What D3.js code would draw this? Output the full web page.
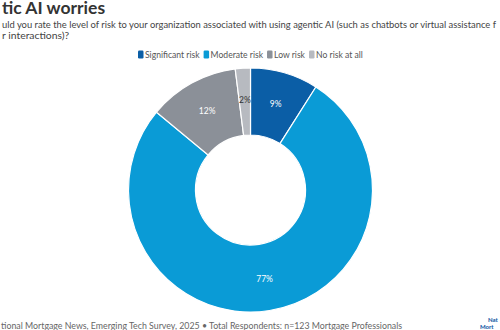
<!DOCTYPE html>
<html><head><meta charset="utf-8">
<script src="https://cdn.jsdelivr.net/npm/d3@7"></script>
<style>body{margin:0;background:#fff;overflow:hidden}svg{display:block;font-family:Lato,sans-serif}</style>
</head><body>
<svg id="c" width="500" height="330"></svg>
<script>
const categories = ["Significant risk","Moderate risk","Low risk","No risk at all"];
const values = [9,77,12,2];
const colors = ["#0b5ea6","#0a9bd6","#8b9098","#b7bac0"];
const labelColors = ["#ffffff","#ffffff","#ffffff","#333333"];

const svg = d3.select("#c");
svg.append("text").attr("x",2).attr("y",14).attr("font-size",17.5).attr("font-weight",700).attr("fill","#333").text("tic AI worries");
svg.append("text").attr("x",2).attr("y",28).attr("font-size",10.4).attr("fill","#444")
  .attr("textLength",494).attr("lengthAdjust","spacingAndGlyphs")
  .text("uld you rate the level of risk to your organization associated with using agentic AI (such as chatbots or virtual assistance f");
svg.append("text").attr("x",2).attr("y",39).attr("font-size",10.4).attr("fill","#444").text("r interactions)?");

// legend
const leg = svg.append("g");
let lx = 138;
categories.forEach((c,i)=>{
  leg.append("rect").attr("x",lx).attr("y",50.5).attr("width",5.5).attr("height",8).attr("rx",1.2).attr("fill",colors[i]);
  const t = leg.append("text").attr("x",lx+7).attr("y",58).attr("font-size",8.6).attr("fill","#555").text(c);
  lx += 7 + t.node().getComputedTextLength() + 4;
});

const cx=250.5, cy=190, R=122, r=55;
const pie = d3.pie().sort(null).value(d=>d)(values);
const arc = d3.arc().innerRadius(r).outerRadius(R);
const g = svg.append("g").attr("transform",`translate(${cx},${cy})`);
g.selectAll("path").data(pie).join("path").attr("d",arc).attr("fill",(d,i)=>colors[i]).attr("stroke","#fff").attr("stroke-width",1.2);
const la = d3.arc().innerRadius(90).outerRadius(90);
g.selectAll("text").data(pie).join("text")
  .attr("transform",d=>`translate(${la.centroid(d)})`)
  .attr("text-anchor","middle").attr("dy","0.35em")
  .attr("font-size",8.5).attr("fill",(d,i)=>labelColors[i])
  .text(d=>d.data+"%");

svg.append("text").attr("x",1).attr("y",329).attr("font-size",8.8).attr("fill","#666").text("tional Mortgage News, Emerging Tech Survey, 2025 • Total Respondents: n=123 Mortgage Professionals");
svg.append("text").attr("x",488).attr("y",322).attr("font-size",6).attr("font-weight",900).attr("fill","#1f5fa8").text("Nat");
svg.append("text").attr("x",480).attr("y",329).attr("font-size",6).attr("font-weight",900).attr("fill","#1f5fa8").text("Mort");
</script>
</body></html>
